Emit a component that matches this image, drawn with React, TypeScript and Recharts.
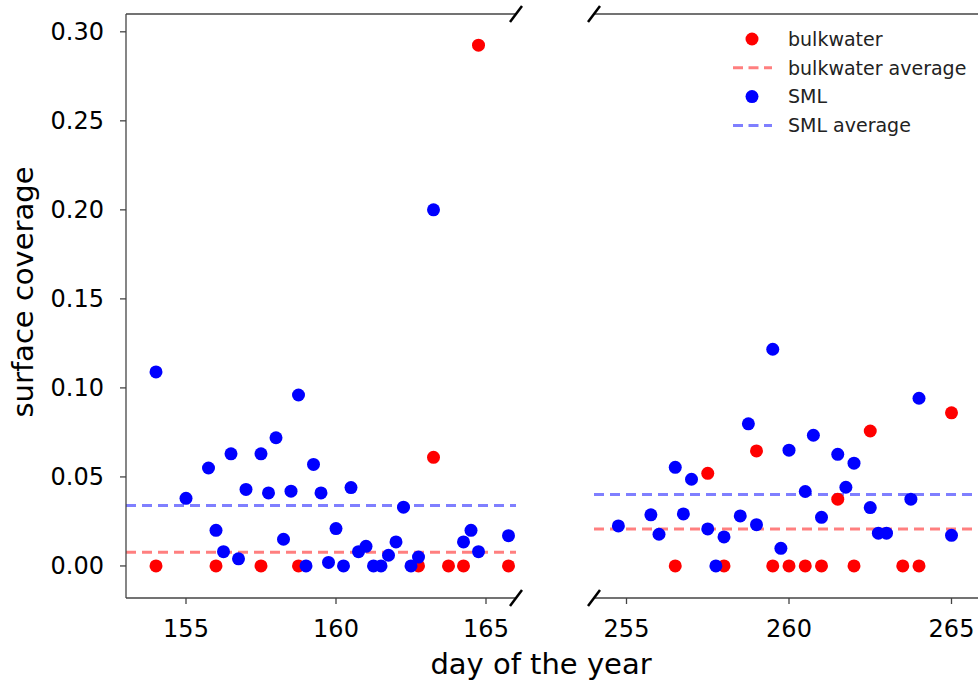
import React from 'react'
import { ScatterChart, Scatter, XAxis, YAxis, ReferenceLine } from 'recharts'

const FONT = '"DejaVu Sans", sans-serif'

// first period (June)
const leftBulkDays = [154, 156, 157.5, 158.75, 162.75, 163.25, 163.75, 164.25, 164.75, 165.75]
const leftBulkValues = [0, 0, 0, 0, 0, 0.061, 0, 0, 0.2925, 0]
const leftSmlDays = [
  154, 155, 155.75, 156, 156.25, 156.5, 156.75, 157, 157.5, 157.75, 158, 158.25, 158.5, 158.75,
  159, 159.25, 159.5, 159.75, 160, 160.25, 160.5, 160.75, 161, 161.25, 161.5, 161.75, 162,
  162.25, 162.5, 162.75, 163.25, 164.25, 164.5, 164.75, 165.75,
]
const leftSmlValues = [
  0.109, 0.038, 0.055, 0.02, 0.008, 0.063, 0.004, 0.043, 0.063, 0.041, 0.072, 0.015, 0.042, 0.096,
  0, 0.057, 0.041, 0.002, 0.021, 0, 0.044, 0.008, 0.011, 0, 0, 0.006, 0.0135,
  0.033, 0, 0.005, 0.2, 0.0135, 0.02, 0.008, 0.017,
]

// second period (September)
const rightBulkDays = [256.5, 257.5, 258, 259, 259.5, 260, 260.5, 261, 261.5, 262, 262.5, 263.5, 264, 265]
const rightBulkValues = [0, 0.052, 0, 0.0646, 0, 0, 0, 0, 0.0375, 0, 0.0758, 0, 0, 0.086]
const rightSmlDays = [
  254.75, 255.75, 256, 256.5, 256.75, 257, 257.5, 257.75, 258, 258.5, 258.75, 259, 259.5, 259.75,
  260, 260.5, 260.75, 261, 261.5, 261.75, 262, 262.5, 262.75, 263, 263.75, 264, 265,
]
const rightSmlValues = [
  0.0225, 0.0287, 0.0178, 0.0554, 0.0292, 0.0487, 0.0208, 0, 0.0163, 0.0281, 0.0798, 0.0232, 0.1217, 0.0099,
  0.065, 0.0418, 0.0734, 0.0273, 0.0627, 0.0442, 0.0577, 0.0328, 0.0184, 0.0184, 0.0375, 0.0942, 0.0172,
]

const leftAverages = { bulk: 0.0077, sml: 0.0339 }
const rightAverages = { bulk: 0.0208, sml: 0.0401 }

const leftDomain = [153, 166]
const rightDomain = [254, 266]
const leftTicks = [155, 160, 165]
const rightTicks = [255, 260, 265]
const yTicks = [0, 0.05, 0.1, 0.15, 0.2, 0.25, 0.3]
const Y_MIN = -0.018
const Y_MAX = 0.31

const seriesNames = ['bulkwater', 'bulkwater average', 'SML', 'SML average']

const RED = '#ff0000'
const BLUE = '#0000ff'
const AXIS = '#444'

const zip = (days: number[], values: number[]) => days.map((day, i) => ({ day, value: values[i] }))

const dot = (color: string) => (props: any) => (
  <circle cx={props.cx} cy={props.cy} r={6.5} fill={color} />
)

function Panel({
  domain,
  ticks,
  bulk,
  sml,
  avg,
  showY,
  width,
  marginLeft,
  marginRight,
}: {
  domain: number[]
  ticks: number[]
  bulk: { day: number; value: number }[]
  sml: { day: number; value: number }[]
  avg: { bulk: number; sml: number }
  showY: boolean
  width: number
  marginLeft: number
  marginRight: number
}) {
  return (
    <ScatterChart
      width={width}
      height={683}
      margin={{ top: 14, right: marginRight, bottom: 25, left: marginLeft }}
    >
      <XAxis
        type="number"
        dataKey="day"
        domain={domain}
        ticks={ticks}
        allowDataOverflow
        height={60}
        tickSize={6}
        tickMargin={16}
        axisLine={{ stroke: AXIS, strokeWidth: 1.3 }}
        tickLine={{ stroke: AXIS, strokeWidth: 1.3 }}
        tick={{ fontSize: 24, fill: '#000', fontFamily: FONT }}
      />
      <YAxis
        type="number"
        dataKey="value"
        domain={[Y_MIN, Y_MAX]}
        ticks={yTicks}
        allowDataOverflow
        hide={!showY}
        width={126}
        tickSize={6}
        tickMargin={16}
        tickFormatter={(v: number) => v.toFixed(2)}
        axisLine={{ stroke: AXIS, strokeWidth: 1.3 }}
        tickLine={{ stroke: AXIS, strokeWidth: 1.3 }}
        tick={{ fontSize: 24, fill: '#000', fontFamily: FONT }}
      />
      <ReferenceLine y={Y_MAX} stroke={AXIS} strokeWidth={1.3} />
      <Scatter data={bulk} fill={RED} shape={dot(RED)} isAnimationActive={false} />
      <Scatter data={sml} fill={BLUE} shape={dot(BLUE)} isAnimationActive={false} />
      <ReferenceLine y={avg.bulk} stroke={RED} strokeOpacity={0.5} strokeWidth={3} strokeDasharray="10 6" />
      <ReferenceLine y={avg.sml} stroke={BLUE} strokeOpacity={0.5} strokeWidth={3} strokeDasharray="10 6" />
    </ScatterChart>
  )
}

function Overlay() {
  const rows = [
    { name: seriesNames[0], color: RED, kind: 'dot' },
    { name: seriesNames[1], color: RED, kind: 'line' },
    { name: seriesNames[2], color: BLUE, kind: 'dot' },
    { name: seriesNames[3], color: BLUE, kind: 'line' },
  ]
  const breaks = [
    [516, 14],
    [516, 598],
    [594, 14],
    [594, 598],
  ]
  return (
    <svg
      width={978}
      height={683}
      style={{ position: 'absolute', left: 0, top: 0, pointerEvents: 'none' }}
      fontFamily={FONT}
    >
      {breaks.map(([x, y], i) => (
        <line key={i} x1={x - 6} y1={y + 8} x2={x + 6} y2={y - 8} stroke="#000" strokeWidth={2.5} />
      ))}
      <text x={541} y={674} fontSize={29} textAnchor="middle" fill="#000">
        day of the year
      </text>
      <text x={33} y={292} fontSize={29} textAnchor="middle" fill="#000" transform="rotate(-90 33 292)">
        surface coverage
      </text>
      {rows.map((r, i) => {
        const y = 39 + i * 28.8
        return (
          <g key={r.name}>
            {r.kind === 'dot' ? (
              <circle cx={752} cy={y} r={6.5} fill={r.color} />
            ) : (
              <line
                x1={733}
                x2={772}
                y1={y}
                y2={y}
                stroke={r.color}
                strokeOpacity={0.5}
                strokeWidth={3}
                strokeDasharray="10 5.5"
              />
            )}
            <text x={788} y={y} dy="0.36em" fontSize={19} fill="#222">
              {r.name}
            </text>
          </g>
        )
      })}
    </svg>
  )
}

export default function App() {
  return (
    <div
      style={{
        position: 'absolute',
        left: 0,
        top: 0,
        width: 978,
        height: 683,
        overflow: 'hidden',
        background: '#fff',
        fontFamily: FONT,
      }}
    >
      <div style={{ position: 'absolute', left: 0, top: 0 }}>
        <Panel
          domain={leftDomain}
          ticks={leftTicks}
          bulk={zip(leftBulkDays, leftBulkValues)}
          sml={zip(leftSmlDays, leftSmlValues)}
          avg={leftAverages}
          showY
          width={540}
          marginLeft={0}
          marginRight={24}
        />
      </div>
      <div style={{ position: 'absolute', left: 560, top: 0 }}>
        <Panel
          domain={rightDomain}
          ticks={rightTicks}
          bulk={zip(rightBulkDays, rightBulkValues)}
          sml={zip(rightSmlDays, rightSmlValues)}
          avg={rightAverages}
          showY={false}
          width={440}
          marginLeft={34}
          marginRight={16}
        />
      </div>
      <Overlay />
    </div>
  )
}
